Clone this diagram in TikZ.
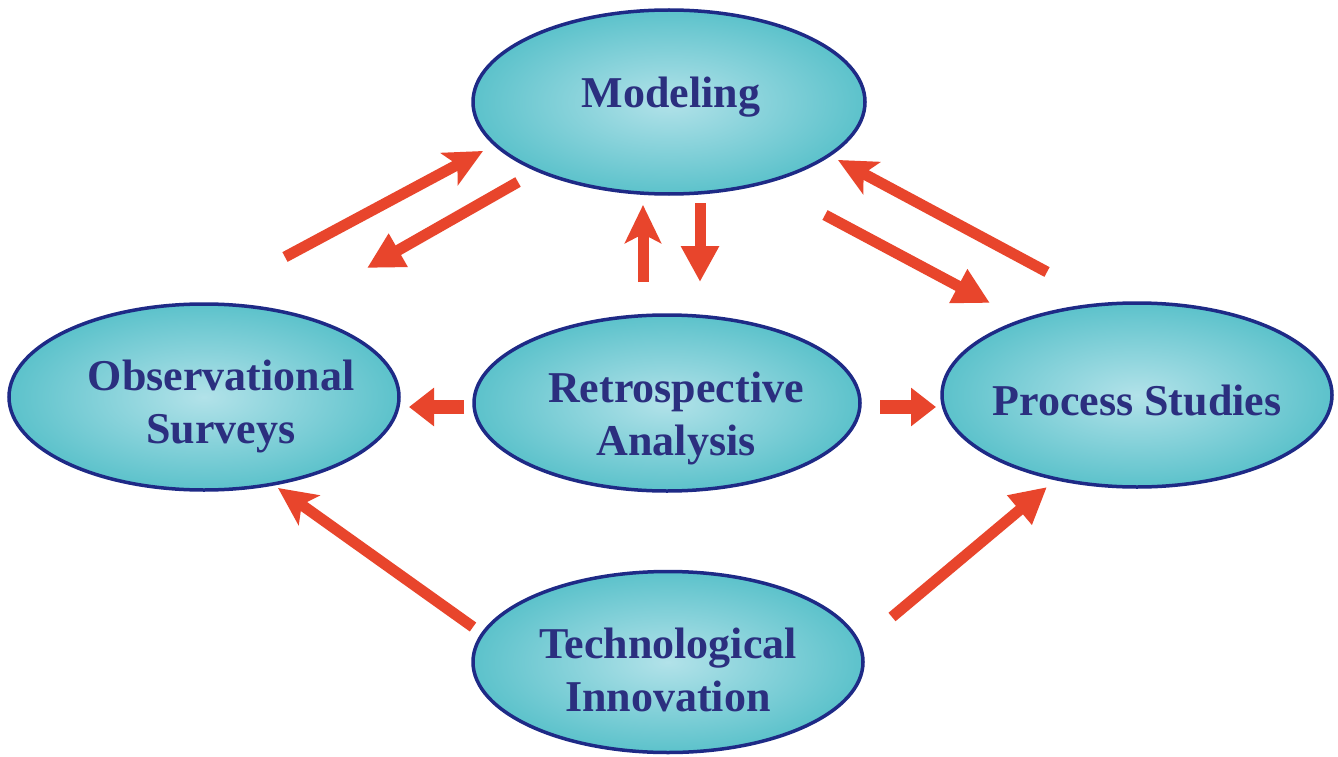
\documentclass[tikz,border=0pt]{standalone}
\usepackage{fontspec}
\setmainfont{Liberation Serif}
\usetikzlibrary{arrows.meta,shapes.geometric}
\definecolor{arrred}{HTML}{E8452C}
\definecolor{ovalline}{HTML}{1E2A86}
\definecolor{ovalout}{HTML}{5CC2CB}
\definecolor{ovalin}{HTML}{B2E2E9}
\definecolor{txtblue}{HTML}{2B2F7F}
\tikzset{
  oval/.style={ellipse, draw=ovalline, line width=3.5pt, inner sep=0pt,
    inner color=ovalin, outer color=ovalout},
  lbl/.style={inner sep=0pt, align=center, text=txtblue,
    font=\fontsize{44}{53}\selectfont\bfseries},
  arr/.style={draw=arrred, line width=11pt},
  tri/.style={-{Triangle[length=36pt,width=36pt]}},
  stl/.style={-{Stealth[length=38pt,width=36pt,inset=9pt]}},
  shorttri/.style={line width=14pt, -{Triangle[length=25pt,width=37pt]}}
}
\begin{document}
\begin{tikzpicture}[x=1pt,y=-1pt]
\useasboundingbox[fill=white] (0,0) rectangle (1338,757);
% ovals
\node[oval, minimum width=392pt, minimum height=184pt] (mod) at (669,102) {};
\node[oval, minimum width=390pt, minimum height=186pt] (obs) at (204,397) {};
\node[oval, minimum width=386pt, minimum height=176pt] (ret) at (667,403) {};
\node[oval, minimum width=390pt, minimum height=184pt] (pro) at (1137,395) {};
\node[oval, minimum width=390pt, minimum height=181pt] (tec) at (668,662) {};
% labels
\node[lbl, anchor=base] (modT) at (671,108) {Modeling};
\node[lbl] (obsT) at (221,406) {Observational\\Surveys};
\node[lbl] (retT) at (676,418) {Retrospective\\Analysis};
\node[lbl, anchor=base] (proT) at (1137,415) {Process Studies};
\node[lbl] (tecT) at (668,670) {Technological\\Innovation};
% arrow end points
\coordinate (om1) at (285,257);  \coordinate (om2) at (483,151);
\coordinate (mo1) at (518,182);  \coordinate (mo2) at (367,268);
\coordinate (up1) at (643,282);  \coordinate (up2) at (643,205);
\coordinate (dn1) at (700,203);  \coordinate (dn2) at (700,282);
\coordinate (mp1) at (825,215);  \coordinate (mp2) at (990,303);
\coordinate (pm1) at (1047,272); \coordinate (pm2) at (838,160);
\coordinate (ro1) at (464,407);  \coordinate (ro2) at (409,407);
\coordinate (rp1) at (880,407);  \coordinate (rp2) at (936,407);
\coordinate (to1) at (473,627);  \coordinate (to2) at (278,488);
\coordinate (tp1) at (892,617);  \coordinate (tp2) at (1047,487);
% arrows
\draw[arr, stl] (om1) -- (om2);
\draw[arr, tri] (mo1) -- (mo2);
\draw[arr, stl] (up1) -- (up2);
\draw[arr, tri] (dn1) -- (dn2);
\draw[arr, tri] (mp1) -- (mp2);
\draw[arr, stl] (pm1) -- (pm2);
\draw[arr, shorttri] (ro1) -- (ro2);
\draw[arr, shorttri] (rp1) -- (rp2);
\draw[arr, stl] (to1) -- (to2);
\draw[arr, tri] (tp1) -- (tp2);
\end{tikzpicture}
\end{document}
